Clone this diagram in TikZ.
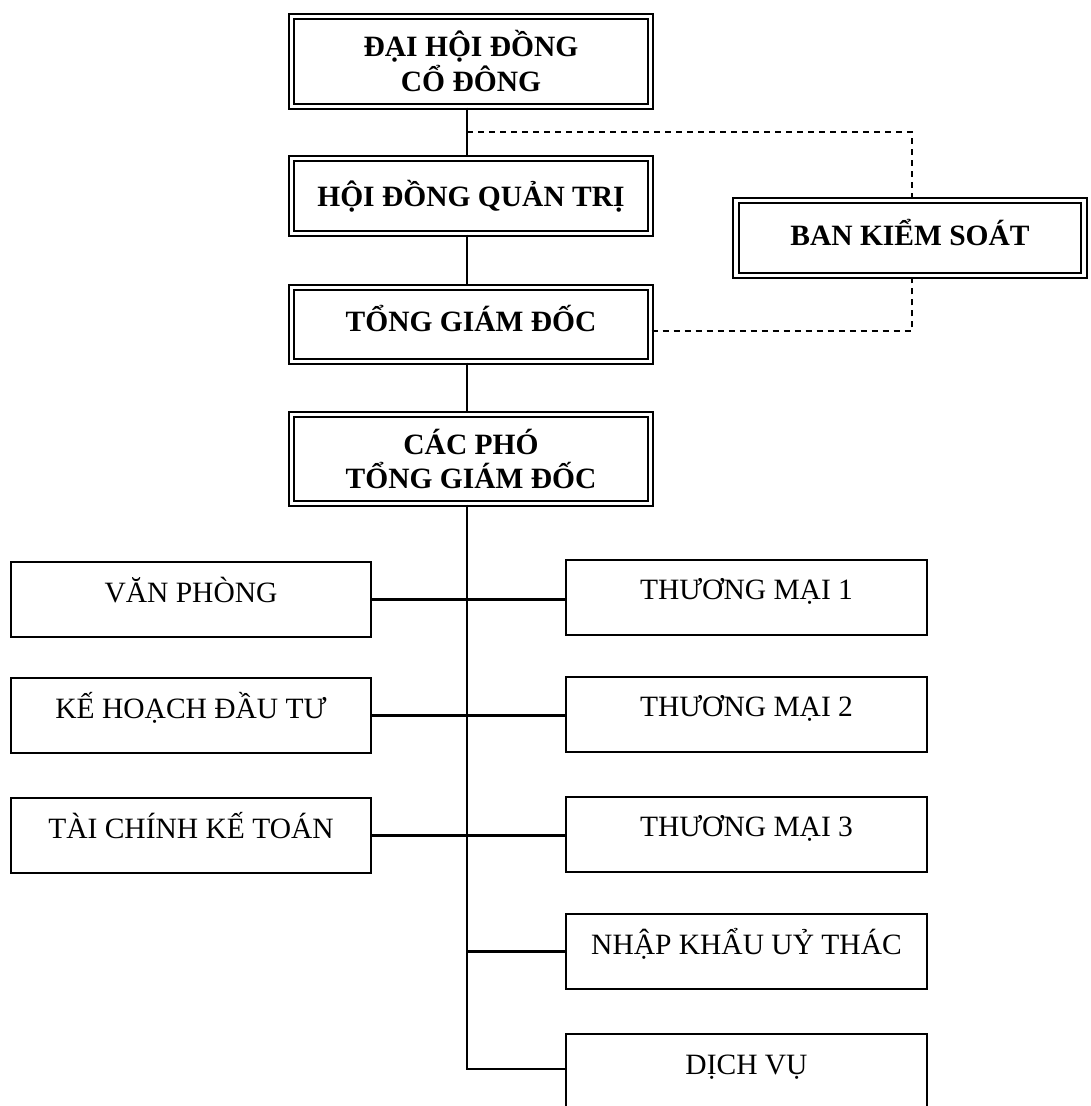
\documentclass[tikz,border=0pt]{standalone}
\usepackage{fontspec}
\setmainfont{Liberation Serif}
\begin{document}
\begin{tikzpicture}[x=1pt,y=-1pt,
  dbox/.style={draw, double, double distance=3.6pt, line width=2.1pt, inner sep=0pt, align=center,
    font=\bfseries\fontsize{29.5}{34}\selectfont},
  sbox/.style={draw, line width=2pt, minimum width=360pt, inner sep=0pt,
    text height=40pt, text depth=35pt, font=\fontsize{29.5}{34}\selectfont},
  conn/.style={line width=2.2pt},
  dconn/.style={line width=1.6pt, dash pattern=on 6pt off 5pt}]
\useasboundingbox (0,0) rectangle (1090,1106);
\clip (0,0) rectangle (1090,1106);
\fill[white] (0,0) rectangle (1090,1106);

% top chain
\node[dbox, minimum width=359pt, minimum height=90pt] (dh) at (471,61.5) {ĐẠI HỘI ĐỒNG\\[1pt]CỔ ĐÔNG};
\node[dbox, minimum width=359pt, minimum height=75pt] (hd) at (471,196) {HỘI ĐỒNG QUẢN TRỊ};
\node[dbox, minimum width=359pt, minimum height=74pt, text depth=12pt] (tg) at (471,324.5) {TỔNG GIÁM ĐỐC};
\node[dbox, minimum width=359pt, minimum height=89pt] (cp) at (471,459) {CÁC PHÓ\\[0pt]TỔNG GIÁM ĐỐC};
\node[dbox, minimum width=348pt, minimum height=75pt, text depth=12pt] (bk) at (910,238) {BAN KIỂM SOÁT};

% left boxes
\node[sbox] (vp) at (191,599.5) {VĂN PHÒNG};
\node[sbox] (kh) at (191,715.5) {KẾ HOẠCH ĐẦU TƯ};
\node[sbox] (tc) at (191,835.5) {TÀI CHÍNH KẾ TOÁN};

% right boxes
\node[sbox, minimum width=361pt] (t1) at (746.5,597) {THƯƠNG MẠI 1};
\node[sbox, minimum width=361pt] (t2) at (746.5,714) {THƯƠNG MẠI 2};
\node[sbox, minimum width=361pt] (t3) at (746.5,834) {THƯƠNG MẠI 3};
\node[sbox, minimum width=361pt] (nk) at (746.5,951.5) {NHẬP KHẨU UỶ THÁC};
\node[sbox, minimum width=361pt, text depth=36pt] (dv) at (746.5,1072) {DỊCH VỤ};

% spine
\coordinate (sp) at (467,0);
\coordinate (j1) at (467,132);
\coordinate (k1) at (912,132);
\coordinate (k2) at (912,331);
\coordinate (e5) at (467,1069);

\draw[conn] (dh.south -| sp) -- (hd.north -| sp);
\draw[conn] (hd.south -| sp) -- (tg.north -| sp);
\draw[conn] (tg.south -| sp) -- (cp.north -| sp);
\draw[conn] (cp.south -| sp) -- (e5) -- (dv.west |- e5);

\draw[conn] (vp.east) -- (vp.east -| t1.west);
\draw[conn] (kh.east) -- (kh.east -| t2.west);
\draw[conn] (tc.east) -- (tc.east -| t3.west);
\draw[conn] (nk.west -| sp) -- (nk.west);

% dashed control links
\draw[dconn] (j1) -- (k1) -- (bk.north -| k1);
\draw[dconn] (tg.east |- k2) -- (k2) -- (bk.south -| k2);
\end{tikzpicture}
\end{document}
